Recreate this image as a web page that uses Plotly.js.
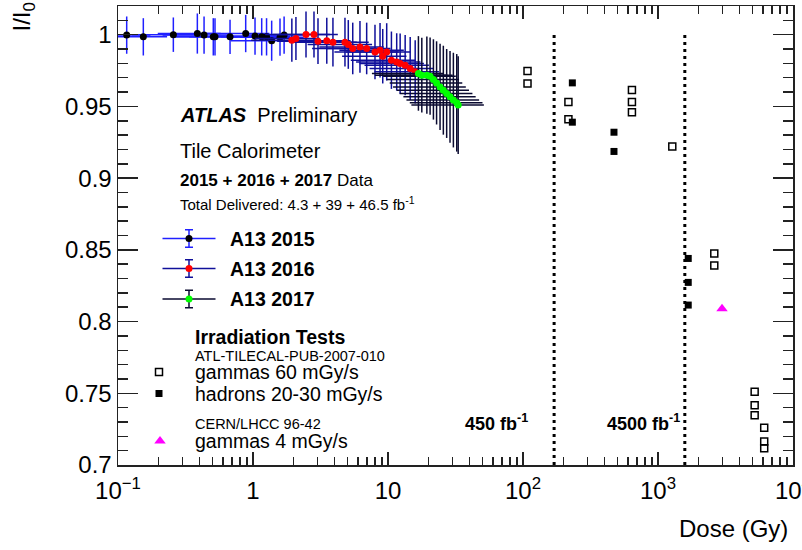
<!DOCTYPE html>
<html>
<head>
<meta charset="utf-8">
<script src="https://cdn.plot.ly/plotly-3.0.1.min.js"></script>
<style>html,body{margin:0;padding:0;background:#fff;}#chart{width:802px;height:550px;}</style>
</head>
<body>
<div id="chart"></div>
<script>
// ---------- data ----------
// A13 2015
const x2015 = [0.116, 0.154, 0.257, 0.387, 0.434, 0.508, 0.523, 0.676, 0.883, 1.035, 1.16, 1.26, 1.375, 1.585, 1.70];
const y2015 = [0.9997, 0.9985, 1.0, 1.0008, 0.9997, 0.9985, 0.9985, 0.9985, 1.0008, 0.9990, 0.9985, 0.9985, 0.9958, 0.9983, 0.9997];
const xErr2015 = [0.058, 0.077, 0.13, 0.19, 0.22, 0.25, 0.26, 0.34, 0.44, 0.52, 0.58, 0.63, 0.69, 0.79, 0.85];
const yErr2015 = [0.013, 0.013, 0.012, 0.014, 0.013, 0.013, 0.013, 0.012, 0.013, 0.013, 0.013, 0.013, 0.014, 0.013, 0.013];
// A13 2016
const x2016 = [1.94, 2.08, 2.47, 2.83, 3.03, 3.52, 3.91, 4.80, 5.08, 5.48, 6.20, 6.95, 8.01, 8.73, 9.14, 9.78, 10.6, 11.6, 12.3, 13.4, 14.6, 15.9];
const y2016 = [0.9962, 0.9974, 1.0001, 1.0001, 0.9955, 0.9958, 0.9948, 0.9948, 0.9932, 0.9904, 0.9915, 0.9904, 0.9880, 0.9892, 0.9850, 0.9880, 0.9822, 0.9810, 0.9799, 0.9787, 0.9764, 0.9741];
const xErr2016 = [0.97, 1.04, 1.24, 1.42, 1.52, 1.76, 1.96, 2.4, 2.54, 2.74, 3.1, 3.48, 4.0, 4.37, 4.57, 4.89, 5.3, 5.8, 6.15, 6.7, 7.3, 7.95];
const yErr2016 = [0.015, 0.015, 0.016, 0.016, 0.016, 0.016, 0.017, 0.017, 0.017, 0.018, 0.018, 0.018, 0.019, 0.019, 0.019, 0.020, 0.020, 0.020, 0.021, 0.021, 0.022, 0.022];
// A13 2017
const x2017 = [16.8, 17.8, 19.4, 20.5, 21.7, 22.9, 24.3, 25.7, 27.2, 28.8, 30.5, 32.3, 33.1];
const y2017 = [0.9730, 0.9718, 0.9718, 0.9711, 0.9688, 0.9664, 0.9636, 0.9613, 0.9590, 0.9567, 0.9544, 0.9525, 0.9509];
const xErr2017 = [9.2, 9.8, 10.7, 11.3, 11.9, 12.6, 13.4, 14.1, 15.0, 15.8, 16.8, 17.8, 18.2];
const yErr2017 = [0.026, 0.026, 0.027, 0.027, 0.028, 0.029, 0.030, 0.031, 0.031, 0.032, 0.033, 0.034, 0.034];
// Irradiation tests
const gam60Dose = [108, 108, 217, 217, 641, 641, 641, 1276, 2612, 2612, 5200, 5200, 5200, 6120, 6120, 6120];
const gam60Resp = [0.9746, 0.9660, 0.953, 0.941, 0.9615, 0.953, 0.946, 0.922, 0.8475, 0.839, 0.751, 0.7416, 0.7346, 0.726, 0.7163, 0.7116];
const hadDose = [232, 232, 472, 472, 1675, 1675, 1675];
const hadResp = [0.9664, 0.939, 0.932, 0.9186, 0.844, 0.8273, 0.8115];
const gam4Dose = [2980];
const gam4Resp = [0.809];
// Luminosity marker lines
const lumiDose = [170, 1580];
const lumiLabels = ['450 fb<sup>-1</sup>', '4500 fb<sup>-1</sup>'];
const lumiLineY = [0.7, 1.0];
// Axis ticks
const xTickVals = [0.1, 1, 10, 100, 1000, 10000];
const xTickText = ['10<sup>\u22121</sup>', '1', '10', '10<sup>2</sup>', '10<sup>3</sup>', '10<sup>4</sup>'];
const yTickVals = [0.7, 0.75, 0.8, 0.85, 0.9, 0.95, 1.0];
const yTickText = ['0.7', '0.75', '0.8', '0.85', '0.9', '0.95', '1'];

// ---------- styling ----------
const FONT = 'Liberation Sans, Arial, Helvetica, sans-serif';
const c2015 = '#2020ff';
const c2016 = '#10109a';
const c2017 = '#0a0a30';
const frame = '#222';

const xMinor = [];
for (let d = -1; d < 4; d++) for (let m = 2; m <= 9; m++) xMinor.push(m * Math.pow(10, d));

function series(x, y, ex, ey, mcol, ecol) {
  return {
    x: x, y: y, type: 'scatter', mode: 'markers', showlegend: false,
    marker: {color: mcol, size: 7},
    error_x: {type: 'data', array: ex, color: ecol, thickness: 1.5, width: 0},
    error_y: {type: 'data', array: ey, color: ecol, thickness: 1.5, width: 0}
  };
}

const traces = [
  series(x2015, y2015, xErr2015, yErr2015, '#000000', c2015),
  series(x2016, y2016, xErr2016, yErr2016, '#ff0000', c2016),
  series(x2017, y2017, xErr2017, yErr2017, '#00ff00', c2017),
  {x: gam60Dose, y: gam60Resp, type: 'scatter', mode: 'markers', showlegend: false,
   marker: {symbol: 'square-open', size: 7, color: '#000', line: {width: 1.5, color: '#000'}}},
  {x: hadDose, y: hadResp, type: 'scatter', mode: 'markers', showlegend: false,
   marker: {symbol: 'square', size: 7, color: '#000'}},
  {x: gam4Dose, y: gam4Resp, type: 'scatter', mode: 'markers', showlegend: false,
   marker: {symbol: 'triangle-up', size: 10, color: '#ff00ff'}}
];
lumiDose.forEach(function (d) {
  traces.push({x: [d, d], y: lumiLineY, type: 'scatter', mode: 'lines', showlegend: false,
    line: {color: '#000', width: 3, dash: '3px,4px'}});
});

// legend symbols on a pixel-like overlay axis
const legY = [238.5, 268.5, 299];
const legM = ['#000000', '#ff0000', '#00ff00'];
const legC = [c2015, c2016, c2017];
for (let i = 0; i < 3; i++) {
  traces.push({x: [189], y: [legY[i]], xaxis: 'x2', yaxis: 'y2', type: 'scatter', mode: 'markers',
    showlegend: false, cliponaxis: false, marker: {color: legM[i], size: 7},
    error_x: {type: 'data', array: [26.5], color: legC[i], thickness: 1.5, width: 0},
    error_y: {type: 'data', array: [8.7], color: legC[i], thickness: 1.5, width: 4}});
}
traces.push({x: [159], y: [372], xaxis: 'x2', yaxis: 'y2', type: 'scatter', mode: 'markers', showlegend: false,
  marker: {symbol: 'square-open', size: 7, color: '#000', line: {width: 1.5, color: '#000'}}});
traces.push({x: [159], y: [393.5], xaxis: 'x2', yaxis: 'y2', type: 'scatter', mode: 'markers', showlegend: false,
  marker: {symbol: 'square', size: 7, color: '#000'}});
traces.push({x: [160], y: [441], xaxis: 'x2', yaxis: 'y2', type: 'scatter', mode: 'markers', showlegend: false,
  marker: {symbol: 'triangle-up', size: 10, color: '#ff00ff'}});

function txt(x, y, text, size, extra) {
  return Object.assign({xref: 'x2', yref: 'y2', x: x, y: y, text: text, showarrow: false,
    xanchor: 'left', yanchor: 'middle', font: {family: FONT, size: size, color: '#000'}}, extra || {});
}

const annotations = [
  txt(178, 115, '<b><i>ATLAS</i></b>  Preliminary', 20),
  txt(178, 151, 'Tile Calorimeter', 20),
  txt(178, 180, '<b>2015 + 2016 + 2017</b> Data', 17),
  txt(178, 203, 'Total Delivered: 4.3 + 39 + 46.5 fb<sup>-1</sup>', 15),
  txt(228, 238.5, '<b>A13 2015</b>', 19.5),
  txt(228, 268.5, '<b>A13 2016</b>', 19.5),
  txt(228, 299, '<b>A13 2017</b>', 19.5),
  txt(193, 337, '<b>Irradiation Tests</b>', 19.5),
  txt(193, 355.5, 'ATL-TILECAL-PUB-2007-010', 14.5),
  txt(193, 372, 'gammas 60 mGy/s', 19.5),
  txt(193, 393.5, 'hadrons 20-30 mGy/s', 19.5),
  txt(193, 424, 'CERN/LHCC 96-42', 14.5),
  txt(193, 441, 'gammas 4 mGy/s', 19.5),
  txt(530, 422, '<b>' + lumiLabels[0] + '</b>', 18, {xanchor: 'right'}),
  txt(682, 422, '<b>' + lumiLabels[1] + '</b>', 18, {xanchor: 'right'}),
  {xref: 'paper', yref: 'paper', x: 1.0 - 3 / 675, y: (465 - 528) / 459, text: 'Dose (Gy)', showarrow: false,
   xanchor: 'right', yanchor: 'middle', font: {family: FONT, size: 24, color: '#000'}},
  {xref: 'paper', yref: 'paper', x: (23 - 118) / 675, y: (465 - 1) / 459, text: 'I/I<sub>0</sub>', showarrow: false,
   textangle: -90, xanchor: 'center', yanchor: 'top', font: {family: FONT, size: 24, color: '#000'}}
];

const layout = {
  width: 802, height: 550,
  margin: {l: 118, r: 9, t: 6, b: 85, pad: 0},
  paper_bgcolor: '#fff', plot_bgcolor: '#fff',
  showlegend: false,
  font: {family: FONT, color: '#000'},
  xaxis: {
    type: 'log', range: [-1, 4], tickmode: 'array', tickvals: xTickVals, ticktext: xTickText,
    ticks: 'inside', ticklen: 13, tickwidth: 1.5, tickcolor: frame,
    showline: true, linecolor: frame, linewidth: 1.5, mirror: 'allticks',
    showgrid: false, zeroline: false, ticklabeloverflow: 'allow', ticklabelstandoff: 4,
    tickfont: {family: FONT, size: 24, color: '#000'},
    minor: {tickmode: 'array', tickvals: xMinor, ticks: 'inside', ticklen: 8, tickwidth: 1.5, tickcolor: frame, showgrid: false}
  },
  yaxis: {
    range: [0.7, 1.02], tickmode: 'array', tickvals: yTickVals, ticktext: yTickText,
    ticks: 'inside', ticklen: 20, tickwidth: 1.5, tickcolor: frame,
    showline: true, linecolor: frame, linewidth: 1.5, mirror: 'allticks',
    showgrid: false, zeroline: false,
    tickfont: {family: FONT, size: 24, color: '#000'},
    minor: {tickmode: 'linear', tick0: 0.7, dtick: 0.01, ticks: 'inside', ticklen: 10, tickwidth: 1.5, tickcolor: frame, showgrid: false}
  },
  xaxis2: {overlaying: 'x', range: [118, 793], visible: false, showgrid: false, zeroline: false},
  yaxis2: {overlaying: 'y', range: [465, 6], visible: false, showgrid: false, zeroline: false},
  annotations: annotations
};

Plotly.newPlot('chart', traces, layout, {staticPlot: true, displayModeBar: false});
</script>
</body>
</html>
